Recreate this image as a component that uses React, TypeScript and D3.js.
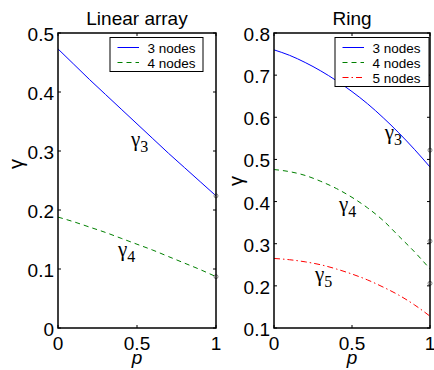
import React from 'react';
import * as d3 from 'd3';

// values, p = 0, 0.1, ..., 1
const pValues = [0, 0.1, 0.2, 0.3, 0.4, 0.5, 0.6, 0.7, 0.8, 0.9, 1];

const linear3 = [0.473, 0.447, 0.421, 0.396, 0.371, 0.346, 0.321, 0.296, 0.272, 0.248, 0.224];
const linear4 = [0.188, 0.180, 0.171, 0.162, 0.152, 0.142, 0.132, 0.121, 0.110, 0.099, 0.087];

const ring3 = [0.760, 0.747, 0.730, 0.710, 0.687, 0.661, 0.632, 0.599, 0.563, 0.524, 0.482];
const ring4 = [0.476, 0.471, 0.462, 0.448, 0.431, 0.410, 0.385, 0.355, 0.318, 0.281, 0.240];
const ring5 = [0.265, 0.262, 0.257, 0.250, 0.240, 0.228, 0.214, 0.197, 0.178, 0.155, 0.128];

const linearMarks = [0.224, 0.087];
const ringMarks = [0.522, 0.306, 0.206];

const xTicks = [0, 0.5, 1];
const linearYTicks = [0, 0.1, 0.2, 0.3, 0.4, 0.5];
const ringYTicks = [0.1, 0.2, 0.3, 0.4, 0.5, 0.6, 0.7, 0.8];

const seriesNames = ['3 nodes', '4 nodes', '5 nodes'];
const colors = ['#0000ff', '#008000', '#ff0000'];
const dashes = [null, '5,4', '6,3,1.5,3'];

const sans = "'Liberation Sans', Arial, Helvetica, sans-serif";
const serif = "'Liberation Serif', 'Times New Roman', serif";

type Label = { sub: string; p: number; v: number };

function Panel(props: {
  left: number; right: number; title: string;
  yDomain: [number, number]; yTicks: number[];
  series: number[][]; marks: number[]; labels: Label[];
  legendX: number; legendW: number; yLabelX: number; yLabelY: number;
}) {
  const { left, right, title, yDomain, yTicks, series, marks, labels, legendX, legendW } = props;
  const top = 33, bottom = 328;
  const x = d3.scaleLinear().domain([0, 1]).range([left, right]);
  const y = d3.scaleLinear().domain(yDomain).range([bottom, top]);
  const line = d3.line<number>().x((d, i) => x(pValues[i])).y(d => y(d)).curve(d3.curveMonotoneX);

  return (
    <g>
      <text x={(left + right) / 2} y={25} textAnchor="middle" fontFamily={sans} fontSize={19}>{title}</text>
      {series.map((s, i) => (
        <path key={i} d={line(s) || ''} fill="none" stroke={colors[i]} strokeWidth={1}
          strokeDasharray={dashes[i] || undefined} />
      ))}
      {marks.map((m, i) => (
        <circle key={i} cx={x(1)} cy={y(m)} r={2} fill="none" stroke="#666" strokeWidth={0.8} />
      ))}
      <rect x={left} y={top} width={right - left} height={bottom - top} fill="none" stroke="#000" strokeWidth={1.5} />
      {xTicks.map(t => (
        <g key={t}>
          <line x1={x(t)} x2={x(t)} y1={bottom} y2={bottom - 3} stroke="#000" />
          <line x1={x(t)} x2={x(t)} y1={top} y2={top + 3} stroke="#000" />
          <text x={x(t)} y={350} textAnchor="middle" fontFamily={sans} fontSize={19}>{String(t)}</text>
        </g>
      ))}
      {yTicks.map(t => (
        <g key={t}>
          <line x1={left} x2={left + 3} y1={y(t)} y2={y(t)} stroke="#000" />
          <line x1={right} x2={right - 3} y1={y(t)} y2={y(t)} stroke="#000" />
          <text x={left - 4} y={y(t) + 8} textAnchor="end" fontFamily={sans} fontSize={19}>{String(t)}</text>
        </g>
      ))}
      <text x={(left + right) / 2} y={364} textAnchor="middle" fontFamily={sans} fontStyle="italic" fontSize={19}>p</text>
      <text transform={`translate(${props.yLabelX},${props.yLabelY}) rotate(-90)`} textAnchor="middle"
        fontFamily={sans} fontSize={20}>γ</text>
      {labels.map((l, i) => (
        <text key={i} x={x(l.p)} y={y(l.v)} fontFamily={serif} fontSize={21}>
          γ<tspan fontSize={16} dy={6}>{l.sub}</tspan>
        </text>
      ))}
      <g transform={`translate(${legendX},37.5)`}>
        <rect x={0} y={0} width={legendW} height={15 * series.length + 4} fill="#fff" stroke="#000" strokeWidth={1} />
        {series.map((s, i) => (
          <g key={i} transform={`translate(0,${10 + i * 15})`}>
            <line x1={7.5} x2={29} y1={0} y2={0} stroke={colors[i]} strokeWidth={1}
              strokeDasharray={dashes[i] || undefined} />
            <text x={37.5} y={5} fontFamily={sans} fontSize={13.5}>{seriesNames[i]}</text>
          </g>
        ))}
      </g>
    </g>
  );
}

export default function App() {
  return (
    <svg width={434} height={370} style={{ position: 'absolute', left: 0, top: 0, background: '#fff' }}>
      <rect width={434} height={370} fill="#fff" />
      <Panel left={58} right={216} title="Linear array" yDomain={[0, 0.5]} yTicks={linearYTicks}
        series={[linear3, linear4]} marks={linearMarks}
        labels={[{ sub: '3', p: 0.462, v: 0.3085 }, { sub: '4', p: 0.38, v: 0.122 }]}
        legendX={110} legendW={93} yLabelX={23} yLabelY={164} />
      <Panel left={274} right={430} title="Ring" yDomain={[0.1, 0.8]} yTicks={ringYTicks}
        series={[ring3, ring4, ring5]} marks={ringMarks}
        labels={[{ sub: '3', p: 0.71, v: 0.5485 }, { sub: '4', p: 0.417, v: 0.378 }, { sub: '5', p: 0.263, v: 0.2115 }]}
        legendX={335} legendW={94} yLabelX={243} yLabelY={181} />
    </svg>
  );
}
